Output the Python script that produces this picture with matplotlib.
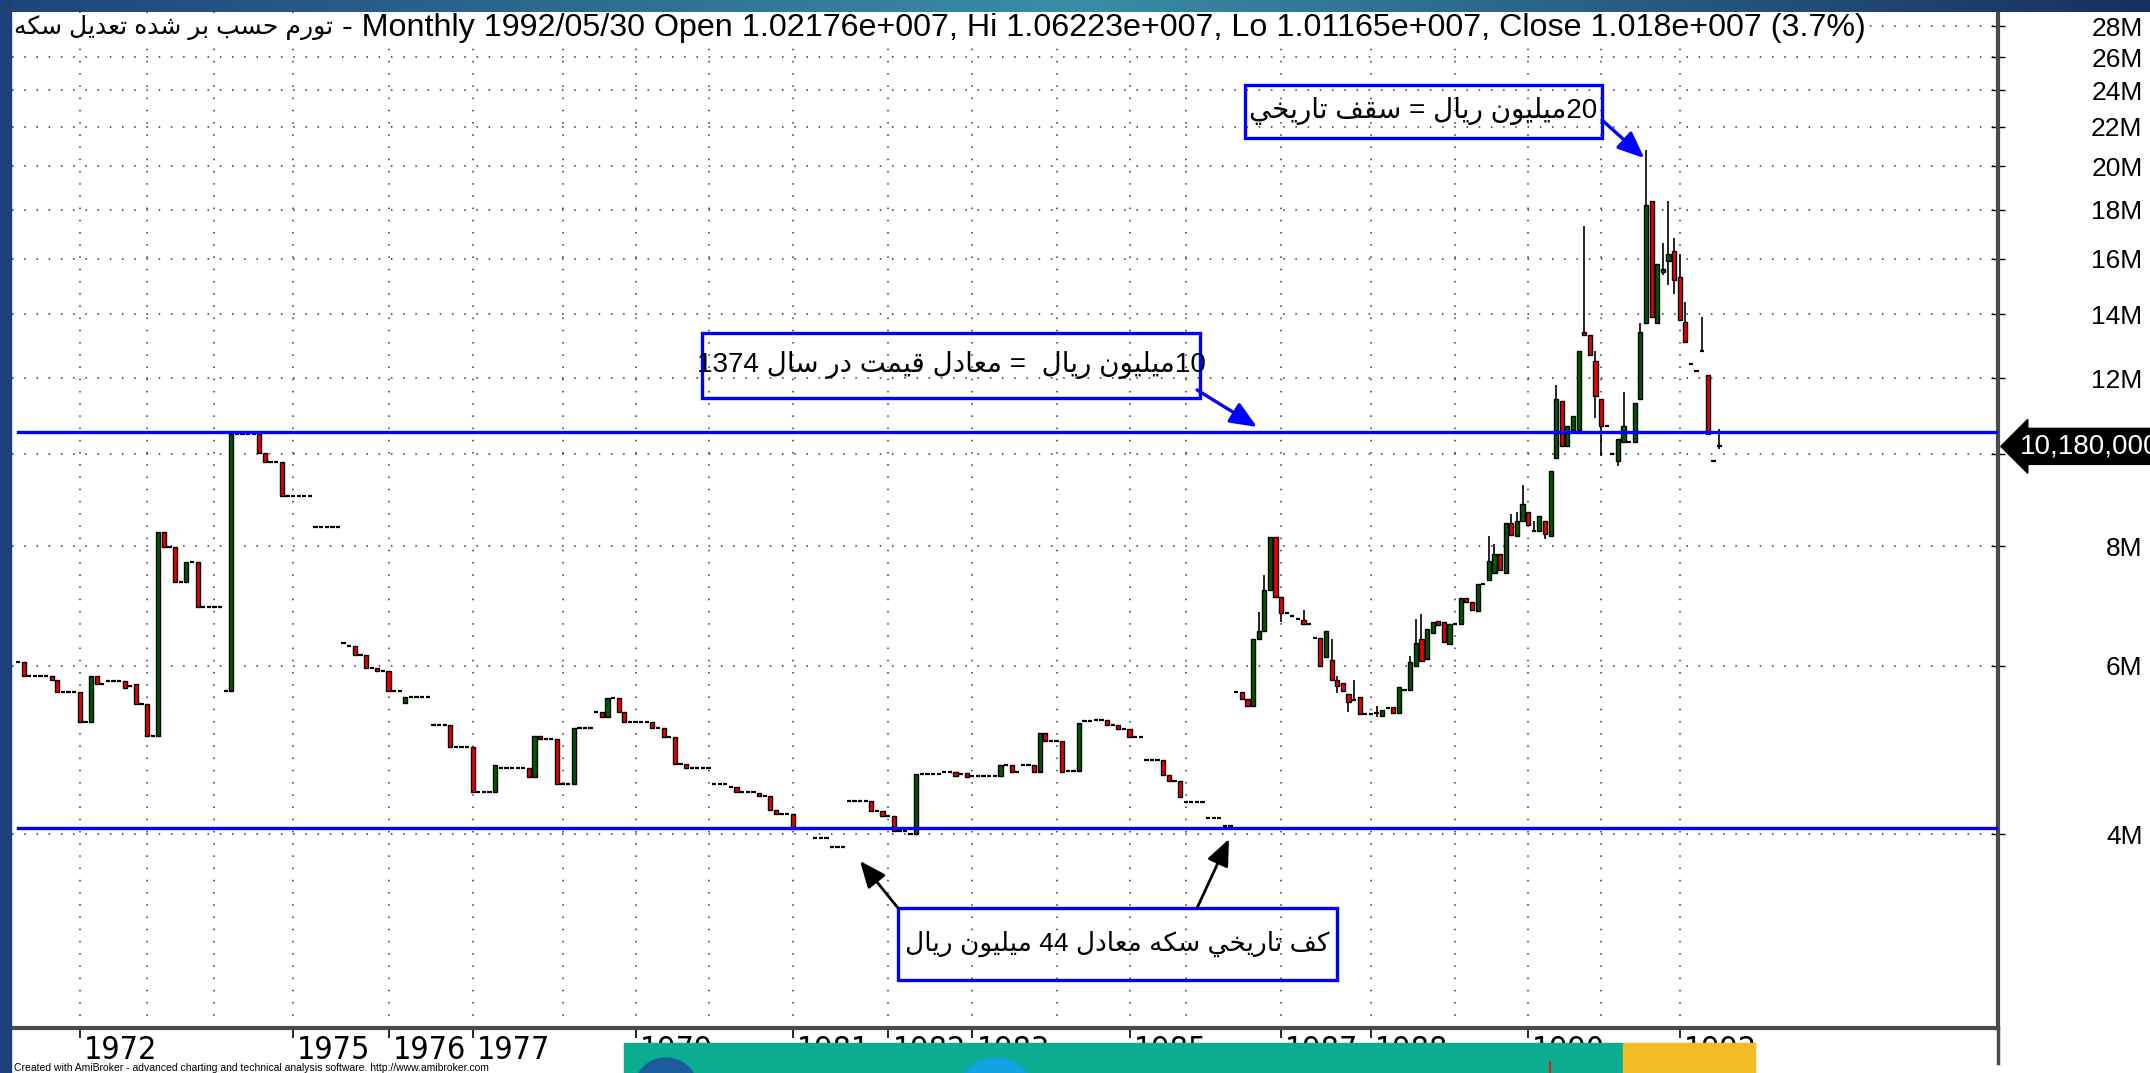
import re
import numpy as np
import matplotlib
matplotlib.use("Agg")
import matplotlib.pyplot as plt
from matplotlib.colors import LinearSegmentedColormap
from matplotlib.lines import Line2D
from matplotlib.patches import Ellipse, Rectangle
from matplotlib.ticker import FixedLocator, NullLocator, NullFormatter
from matplotlib.transforms import ScaledTranslation, blended_transform_factory

plt.rcParams["font.family"] = ["Liberation Sans", "DejaVu Sans"]

# ---- monthly bars, millions of rials ----
bar_open = [
    6.05, 6.05, 5.86, 5.86, 5.86, 5.86, 5.86, 5.80, 5.63, 5.63,
    5.63, 5.63, 5.24, 5.24, 5.85, 5.74, 5.78, 5.78, 5.78, 5.78,
    5.72, 5.74, 5.47, 5.47, 5.07, 5.07, 8.28, 7.98, 7.98, 7.34,
    7.34, 7.71, 7.71, 6.92, 6.92, 6.92, 6.92, 5.65, 5.65, 10.50,
    10.50, 10.50, 10.50, 10.50, 10.03, 9.81, 9.81, 9.81, 9.04, 9.04,
    9.04, 9.04, 9.04, 8.38, 8.38, 8.38, 8.38, 8.38, 6.34, 6.30,
    6.30, 6.16, 6.16, 5.97, 5.97, 5.93, 5.93, 5.65, 5.65, 5.49,
    5.56, 5.56, 5.56, 5.56, 5.20, 5.20, 5.20, 5.20, 4.93, 4.93,
    4.93, 4.93, 4.43, 4.43, 4.43, 4.43, 4.69, 4.69, 4.69, 4.69,
    4.69, 4.69, 4.59, 5.07, 5.03, 5.03, 5.03, 4.51, 4.51, 4.51,
    5.17, 5.17, 5.17, 5.37, 5.37, 5.30, 5.55, 5.55, 5.37, 5.24,
    5.24, 5.24, 5.24, 5.24, 5.16, 5.16, 5.05, 5.05, 4.74, 4.74,
    4.69, 4.69, 4.69, 4.69, 4.51, 4.51, 4.51, 4.48, 4.48, 4.43,
    4.43, 4.43, 4.42, 4.38, 4.38, 4.24, 4.20, 4.20, 4.20, 4.05,
    4.05, 4.05, 3.96, 3.96, 3.96, 3.88, 3.88, 3.88, 4.33, 4.33,
    4.33, 4.33, 4.33, 4.23, 4.23, 4.18, 4.18, 4.03, 4.03, 4.00,
    4.00, 4.62, 4.62, 4.62, 4.62, 4.65, 4.65, 4.65, 4.62, 4.63,
    4.60, 4.60, 4.60, 4.60, 4.60, 4.60, 4.73, 4.73, 4.65, 4.73,
    4.73, 4.73, 4.64, 5.10, 5.00, 5.00, 5.00, 4.66, 4.66, 4.66,
    5.25, 5.25, 5.27, 5.27, 5.27, 5.20, 5.20, 5.15, 5.15, 5.05,
    5.05, 4.78, 4.78, 4.78, 4.78, 4.61, 4.55, 4.55, 4.32, 4.32,
    4.32, 4.32, 4.16, 4.16, 4.16, 4.08, 4.08, 5.63, 5.63, 5.54,
    5.44, 6.40, 6.53, 7.20, 8.18, 7.08, 6.82, 6.77, 6.72, 6.70,
    6.64, 6.42, 6.42, 6.13, 6.09, 5.80, 5.75, 5.61, 5.52, 5.57,
    5.34, 5.34, 5.36, 5.32, 5.42, 5.43, 5.36, 5.66, 5.66, 6.00,
    6.40, 6.10, 6.50, 6.68, 6.66, 6.32, 6.64, 6.63, 7.06, 7.00,
    6.85, 7.30, 7.38, 7.50, 7.86, 7.50, 8.47, 8.20, 8.50, 8.70,
    8.30, 8.30, 8.50, 8.20, 9.90, 11.35, 10.20, 10.60, 10.60, 13.40,
    13.30, 12.50, 11.40, 10.70, 10.00, 9.83, 10.30, 10.30, 10.30, 11.40,
    13.70, 18.40, 13.70, 15.50, 15.90, 16.30, 15.30, 13.75, 12.40, 12.20,
    12.80, 12.10, 9.817, 10.2176,
]
bar_close = [
    6.05, 5.86, 5.86, 5.86, 5.86, 5.86, 5.80, 5.63, 5.63, 5.63,
    5.63, 5.24, 5.24, 5.85, 5.74, 5.74, 5.78, 5.78, 5.78, 5.69,
    5.72, 5.47, 5.47, 5.07, 5.07, 8.28, 7.98, 7.98, 7.34, 7.34,
    7.71, 7.71, 6.92, 6.92, 6.92, 6.92, 6.92, 5.65, 10.50, 10.50,
    10.50, 10.50, 10.50, 10.03, 9.81, 9.81, 9.81, 9.04, 9.04, 9.04,
    9.04, 9.04, 9.04, 8.38, 8.38, 8.38, 8.38, 8.38, 6.34, 6.30,
    6.16, 6.16, 5.97, 5.97, 5.93, 5.93, 5.65, 5.65, 5.65, 5.56,
    5.56, 5.56, 5.56, 5.56, 5.20, 5.20, 5.20, 4.93, 4.93, 4.93,
    4.93, 4.43, 4.43, 4.43, 4.43, 4.72, 4.69, 4.69, 4.69, 4.69,
    4.69, 4.59, 5.07, 5.03, 5.03, 5.03, 4.51, 4.51, 4.51, 5.17,
    5.17, 5.17, 5.17, 5.37, 5.30, 5.55, 5.55, 5.37, 5.24, 5.24,
    5.24, 5.24, 5.24, 5.16, 5.16, 5.05, 5.05, 4.74, 4.74, 4.69,
    4.69, 4.69, 4.69, 4.69, 4.51, 4.51, 4.51, 4.48, 4.43, 4.43,
    4.43, 4.43, 4.38, 4.38, 4.24, 4.20, 4.20, 4.20, 4.05, 4.05,
    4.05, 4.05, 3.96, 3.96, 3.96, 3.88, 3.88, 3.88, 4.33, 4.33,
    4.33, 4.33, 4.23, 4.23, 4.18, 4.18, 4.03, 4.03, 4.03, 4.00,
    4.62, 4.62, 4.62, 4.62, 4.62, 4.65, 4.65, 4.60, 4.62, 4.59,
    4.60, 4.60, 4.60, 4.60, 4.60, 4.73, 4.73, 4.65, 4.65, 4.73,
    4.73, 4.64, 5.10, 5.00, 5.00, 5.00, 4.64, 4.66, 4.66, 5.23,
    5.25, 5.25, 5.27, 5.27, 5.20, 5.20, 5.15, 5.15, 5.05, 5.05,
    5.05, 4.78, 4.78, 4.78, 4.61, 4.55, 4.55, 4.37, 4.32, 4.32,
    4.32, 4.32, 4.16, 4.16, 4.16, 4.08, 4.08, 5.63, 5.54, 5.44,
    6.40, 6.53, 7.20, 8.18, 7.08, 6.82, 6.82, 6.77, 6.72, 6.64,
    6.64, 6.42, 6.00, 6.52, 5.80, 5.72, 5.64, 5.50, 5.52, 5.34,
    5.34, 5.34, 5.36, 5.40, 5.42, 5.36, 5.70, 5.66, 6.05, 6.34,
    6.07, 6.55, 6.66, 6.62, 6.35, 6.64, 6.64, 7.06, 7.00, 6.86,
    7.30, 7.30, 7.73, 7.86, 7.55, 8.47, 8.22, 8.50, 8.86, 8.42,
    8.30, 8.60, 8.25, 9.60, 11.40, 10.20, 10.70, 10.95, 12.80, 13.30,
    12.70, 11.50, 10.70, 10.70, 10.00, 10.35, 10.70, 10.30, 11.30, 13.40,
    18.20, 13.90, 15.80, 15.60, 16.20, 15.20, 13.80, 13.10, 12.40, 12.20,
    12.80, 10.50, 9.817, 10.18,
]
wick_high = {221: 6.83, 222: 7.47, 229: 6.86, 234: 6.40, 235: 5.85, 238: 5.80,
             242: 5.45, 248: 6.15, 249: 6.72, 250: 6.80, 262: 8.20, 263: 8.05,
             266: 8.65, 267: 8.70, 268: 9.28, 270: 8.50, 274: 11.80, 279: 17.30,
             281: 12.80, 286: 11.60, 289: 13.70, 290: 20.80, 293: 16.60, 294: 18.40,
             295: 16.80, 296: 16.20, 297: 14.40, 300: 13.90, 303: 10.6223}
wick_low = {225: 6.66, 235: 5.62, 237: 5.37, 242: 5.30, 272: 8.15, 281: 10.90,
            282: 9.95, 285: 9.70, 293: 15.40, 294: 15.00, 295: 14.70, 303: 10.1165}

last_date = "1992/05/30"
chart_name = "تورم حسب بر شده تعديل سكه"

years = [1972, 1973, 1974, 1975, 1976, 1977, 1978, 1979, 1980, 1981, 1982,
         1983, 1984, 1985, 1986, 1987, 1988, 1989, 1990, 1991, 1992]
year_first_bar = [11, 23, 35, 49, 66, 81, 97, 110, 123, 138, 155,
                  170, 185, 198, 208, 225, 241, 256, 269, 282, 296]
labelled_years = [1972, 1975, 1976, 1977, 1979, 1981, 1982, 1983, 1985,
                  1987, 1988, 1990, 1992]

price_ticks = [4, 6, 8, 10, 12, 14, 16, 18, 20, 22, 24, 26, 28]
resistance_level = 10.54
support_level = 4.06

note_top = "20ميليون ريال = سقف تاريخي"
note_mid = "10ميليون ريال  = معادل قيمت در سال 1374"
note_low = "كف تاريخي سكه معادل 44 ميليون ريال"

# ---- arabic shaping (matplotlib has no bidi / joining) ----
FORMS = {
    "\u0627": ("\uFE8D", "\uFE8E", None, None),
    "\u0628": ("\uFE8F", "\uFE90", "\uFE91", "\uFE92"),
    "\u062A": ("\uFE95", "\uFE96", "\uFE97", "\uFE98"),
    "\u062D": ("\uFEA1", "\uFEA2", "\uFEA3", "\uFEA4"),
    "\u062E": ("\uFEA5", "\uFEA6", "\uFEA7", "\uFEA8"),
    "\u062F": ("\uFEA9", "\uFEAA", None, None),
    "\u0631": ("\uFEAD", "\uFEAE", None, None),
    "\u0633": ("\uFEB1", "\uFEB2", "\uFEB3", "\uFEB4"),
    "\u0634": ("\uFEB5", "\uFEB6", "\uFEB7", "\uFEB8"),
    "\u0639": ("\uFEC9", "\uFECA", "\uFECB", "\uFECC"),
    "\u0641": ("\uFED1", "\uFED2", "\uFED3", "\uFED4"),
    "\u0642": ("\uFED5", "\uFED6", "\uFED7", "\uFED8"),
    "\u0643": ("\uFED9", "\uFEDA", "\uFEDB", "\uFEDC"),
    "\u0644": ("\uFEDD", "\uFEDE", "\uFEDF", "\uFEE0"),
    "\u0645": ("\uFEE1", "\uFEE2", "\uFEE3", "\uFEE4"),
    "\u0646": ("\uFEE5", "\uFEE6", "\uFEE7", "\uFEE8"),
    "\u0647": ("\uFEE9", "\uFEEA", "\uFEEB", "\uFEEC"),
    "\u0648": ("\uFEED", "\uFEEE", None, None),
    "\u064A": ("\uFEF1", "\uFEF2", "\uFEF3", "\uFEF4"),
}


def rtl(text):
    text = text.replace("\u06A9", "\u0643").replace("\u06CC", "\u064A")
    out = []
    for i, ch in enumerate(text):
        if ch not in FORMS:
            out.append(ch)
            continue
        prev = text[i - 1] if i > 0 else ""
        nxt = text[i + 1] if i + 1 < len(text) else ""
        iso, fin, ini, med = FORMS[ch]
        jp = prev in FORMS and FORMS[prev][2] is not None
        jn = nxt in FORMS and ini is not None
        out.append(med if jp and jn else fin if jp else ini if jn else iso)
    vis = "".join(out)[::-1]
    return re.sub(r"[0-9]+", lambda m: m.group(0)[::-1], vis)


def ami(v):
    s = f"{v * 1e6:.6g}"
    return re.sub(r"e\+0*(\d+)", lambda m: "e+%03d" % int(m.group(1)), s)


o = np.array(bar_open)
c = np.array(bar_close)
hi = np.maximum(o, c)
lo = np.minimum(o, c)
for k, v in wick_high.items():
    hi[k] = v
for k, v in wick_low.items():
    lo[k] = v
x = np.arange(len(o))

W, H = 2150, 1073
fig = plt.figure(figsize=(W / 100, H / 100), dpi=100, facecolor="white")
ax = fig.add_axes([12 / W, 1 - 1028 / H, 1986 / W, 1016 / H])
ax.set_facecolor("white")

ax.set_yscale("log")
ax.set_ylim(2.507, 28.99)
ax.set_xlim(-1.07, 352.7)

# dotted grid
dots = (0, (1, 7))
for t in price_ticks:
    ax.axhline(t, color="#333333", lw=1.1, ls=dots, zorder=1)
for b in year_first_bar:
    ax.axvline(b, color="#333333", lw=1.1, ls=dots, zorder=1)

# candles
wick = (hi > np.maximum(o, c)) | (lo < np.minimum(o, c))
ax.vlines(x[wick], lo[wick], hi[wick], color="black", lw=1.2, zorder=3)
up = c > o
dn = c < o
flat = c == o
ax.bar(x[up], c[up] - o[up], bottom=o[up], width=0.74, color="#005a00",
       edgecolor="black", linewidth=1, zorder=4)
ax.bar(x[dn], o[dn] - c[dn], bottom=c[dn], width=0.74, color="#ee0000",
       edgecolor="black", linewidth=1, zorder=4)
ax.hlines(o[flat], x[flat] - 0.38, x[flat] + 0.38, color="black", lw=1.6, zorder=4)

# trend lines
x0 = (0 - ax.get_xlim()[0]) / (ax.get_xlim()[1] - ax.get_xlim()[0])
for lvl in (resistance_level, support_level):
    ax.axhline(lvl, xmin=x0, xmax=1, color="#0000ff", lw=2.4, zorder=5)

# axes frame
for s in ("top", "left"):
    ax.spines[s].set_visible(False)
for s in ("bottom", "right"):
    ax.spines[s].set_linewidth(3)
    ax.spines[s].set_color("#4a4a4a")

# y axis on the right (10M sits under the last-price tag)
ax.yaxis.tick_right()
ax.yaxis.set_major_locator(FixedLocator(price_ticks))
ax.yaxis.set_minor_locator(NullLocator())
ax.yaxis.set_minor_formatter(NullFormatter())
ax.set_yticklabels(["" if t == 10 else f"{t}M" for t in price_ticks])
ax.tick_params(axis="y", direction="inout", length=10, width=1, labelsize=19, pad=99)
for lbl in ax.get_yticklabels():
    lbl.set_ha("right")

# x axis: year labels start right after their tick
ax.set_xticks([year_first_bar[years.index(y)] for y in labelled_years])
ax.set_xticklabels([str(y) for y in labelled_years])
ax.tick_params(axis="x", direction="out", length=7, width=1.2, pad=-2, labelsize=23)
shift = ScaledTranslation(3 / 72, 0, fig.dpi_scale_trans)
for lbl in ax.get_xticklabels():
    lbl.set_ha("left")
    lbl.set_family(["DejaVu Sans"])
    lbl.set_stretch("condensed")
    lbl.set_transform(lbl.get_transform() + shift)

# title line
pct = (c[-1] / c[-2] - 1) * 100
name_txt = ax.text(0.001, 0.9852, rtl(chart_name), transform=ax.transAxes, ha="left",
                   va="center", fontsize=18, color="black", zorder=6,
                   bbox=dict(fc="white", ec="none", pad=1))
ax.annotate(f" - Monthly {last_date} Open {ami(o[-1])}, Hi {ami(hi[-1])}, "
            f"Lo {ami(lo[-1])}, Close {ami(c[-1])} ({pct:.1f}%)",
            xy=(1, 0.45), xycoords=name_txt, ha="left", va="center",
            fontsize=23.2, color="black", zorder=6,
            bbox=dict(fc="white", ec="none", pad=1))

# last price tag
ax.annotate(f"{c[-1] * 1e6:,.0f}", xy=(1, c[-1]),
            xycoords=blended_transform_factory(ax.transAxes, ax.transData),
            xytext=(16, 0), textcoords="offset points", ha="left", va="center",
            fontsize=20, color="white", annotation_clip=False, zorder=10,
            bbox=dict(boxstyle="larrow,pad=0.18", fc="black", ec="black"))

# annotation boxes
boxes = [
    (note_top, 0.6208, 0.8760, 0.1798, 0.0522, 20),
    (note_mid, 0.3474, 0.6201, 0.2508, 0.0640, 20),
    (note_low, 0.4461, 0.0472, 0.2210, 0.0709, 19),
]
for txt, bx, by, bw, bh, fs in boxes:
    ax.add_patch(Rectangle((bx, by), bw, bh, transform=ax.transAxes, fill=False,
                           ec="#0000ff", lw=2.4, zorder=6))
    ax.text(bx + bw / 2, by + bh / 2, rtl(txt), transform=ax.transAxes,
            ha="center", va="center", fontsize=fs, color="black", zorder=6)

peak = int(np.argmax(hi))
blue_arrow = dict(arrowstyle="-|>,head_length=0.9,head_width=0.38", color="#0000ff",
                  lw=2.4, shrinkA=0, shrinkB=0, mutation_scale=18)
black_arrow = dict(arrowstyle="-|>,head_length=0.9,head_width=0.38", color="black",
                   lw=2.0, shrinkA=0, shrinkB=0, mutation_scale=18)
ax.annotate("", xy=(peak - 0.3, hi[peak] * 0.98), xycoords="data",
            xytext=(0.8006, 0.8937), textcoords="axes fraction",
            arrowprops=blue_arrow, zorder=6)
ax.annotate("", xy=(0.6269, resistance_level * 1.012),
            xycoords=blended_transform_factory(ax.transAxes, ax.transData),
            xytext=(0.5967, 0.6280), textcoords="axes fraction",
            arrowprops=blue_arrow, zorder=6)
ax.annotate("", xy=(0.4270, 0.1644), xycoords="axes fraction",
            xytext=(0.4461, 0.1181), textcoords="axes fraction",
            arrowprops=black_arrow, zorder=6)
ax.annotate("", xy=(0.6128, 0.1860), xycoords="axes fraction",
            xytext=(0.5967, 0.1181), textcoords="axes fraction",
            arrowprops=black_arrow, zorder=6)

# window chrome around the chart
band_cmap = LinearSegmentedColormap.from_list(
    "band", [(0, "#1f4479"), (0.5, "#3b8da6"), (1, "#172f5f")])
band = fig.add_axes([0, 1 - 12 / H, 1, 12 / H])
band.imshow(np.linspace(0, 1, 256)[None, :], aspect="auto", cmap=band_cmap)
band.set_axis_off()
fig.add_artist(Rectangle((0, 0), 11 / W, 1, transform=fig.transFigure,
                         color="#1b4176", zorder=8))
fig.add_artist(Line2D([1998 / W, 1998 / W], [1 - 1063 / H, 1 - 1028 / H],
                      transform=fig.transFigure, color="#4a4a4a", lw=2.5))
fig.text(14 / W, 1 - 1068 / H,
         "Created with AmiBroker - advanced charting and technical analysis software. "
         "http://www.amibroker.com", fontsize=7.5, va="center", ha="left")

# advert strip over the bottom
fig.add_artist(Rectangle((624 / W, 0), 999 / W, 30 / H, transform=fig.transFigure,
                         color="#08ae8f", zorder=20))
fig.add_artist(Rectangle((1623 / W, 0), 132 / W, 30 / H, transform=fig.transFigure,
                         color="#f3bc24", zorder=20))
fig.add_artist(Ellipse((666 / W, 1 - 1090 / H), 64 / W, 64 / H, transform=fig.transFigure,
                       color="#1d5c9c", zorder=21))
fig.add_artist(Ellipse((996 / W, 1 - 1098 / H), 80 / W, 80 / H, transform=fig.transFigure,
                       color="#12a2e2", zorder=21))
fig.add_artist(Line2D([1550 / W, 1550 / W], [0, 11 / H], transform=fig.transFigure,
                      color="#e02020", lw=1.5, zorder=21))

fig.savefig("out.png", dpi=100, facecolor="white")
